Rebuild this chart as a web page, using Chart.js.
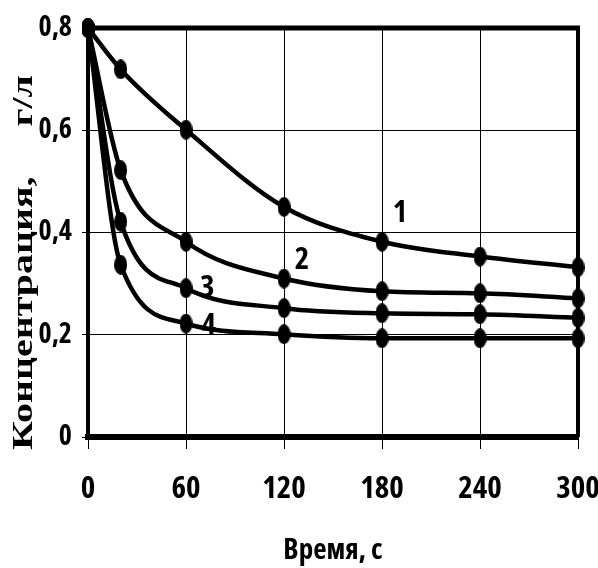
<!DOCTYPE html>
<html>
<head>
<meta charset="utf-8">
<script src="https://cdn.jsdelivr.net/npm/chart.js@4.4.1/dist/chart.umd.min.js"></script>
<style>
  html, body { margin: 0; padding: 0; background: #fff; }
  #wrap { width: 598px; height: 568px; }
</style>
</head>
<body>
<div id="wrap"><canvas id="chart"></canvas></div>
<script>
// время, с
const times = [0, 20, 60, 120, 180, 240, 300];
// концентрация, г/л
const curve1 = [0.8, 0.719, 0.601, 0.450, 0.382, 0.353, 0.332];
const curve2 = [0.8, 0.522, 0.382, 0.310, 0.285, 0.281, 0.271];
const curve3 = [0.8, 0.421, 0.291, 0.252, 0.242, 0.240, 0.233];
const curve4 = [0.8, 0.337, 0.222, 0.201, 0.193, 0.193, 0.193];
const xTicks = [0, 60, 120, 180, 240, 300];
const yTicks = [0, 0.2, 0.4, 0.6, 0.8];

// подписи кривых (в координатах осей)
const curveLabels = [
  { text: "1", x: 191, y: 0.438 },
  { text: "2", x: 131, y: 0.345 },
  { text: "3", x: 73, y: 0.292 },
  { text: "4", x: 74, y: 0.217 },
];

// узкий жирный шрифт: Open Sans condensed, если он есть
const probe = document.createElement("canvas").getContext("2d");
probe.font = "bold 30px 'Open Sans'";
const wNormal = probe.measureText("000000").width;
probe.font = "condensed bold 30px 'Open Sans'";
const wCond = probe.measureText("000000").width;
const hasCond = wCond < wNormal * 0.9;
const tickFont = hasCond
  ? { family: "'Open Sans'", weight: "condensed bold", size: 28 }
  : { family: "'Liberation Sans', Arial, sans-serif", weight: "bold", size: 24 };
const fontStr = (f, size) => f.weight + " " + (size || f.size) + "px " + f.family;

// точка-эллипс
const dot = document.createElement("canvas");
dot.width = 13;
dot.height = 20;
const dctx = dot.getContext("2d");
dctx.fillStyle = "#000";
dctx.beginPath();
dctx.ellipse(6.5, 10, 6.5, 10, 0, 0, Math.PI * 2);
dctx.fill();

function series(data) {
  return {
    data: data.map((v, i) => ({ x: times[i], y: v })),
    borderColor: "#000",
    borderWidth: 4.5,
    pointStyle: dot,
    pointBackgroundColor: "#000",
    cubicInterpolationMode: "monotone",
    clip: false,
  };
}

const extras = {
  id: "extras",
  afterDraw(chart) {
    const { ctx, chartArea: a, scales } = chart;
    ctx.save();
    ctx.strokeStyle = "#000";
    ctx.lineWidth = 5;
    ctx.beginPath();
    ctx.moveTo(a.left - 2, a.top);
    ctx.lineTo(a.right + 2, a.top);
    ctx.stroke();
    ctx.lineWidth = 4;
    ctx.beginPath();
    ctx.moveTo(a.right, a.top);
    ctx.lineTo(a.right, a.bottom);
    ctx.stroke();

    ctx.fillStyle = "#000";
    ctx.font = fontStr(tickFont, hasCond ? 31 : 26);
    ctx.textAlign = "center";
    ctx.textBaseline = "middle";
    curveLabels.forEach((l) => {
      ctx.fillText(l.text, scales.x.getPixelForValue(l.x), scales.y.getPixelForValue(l.y));
    });

    // подпись оси Y (растянута по длине, как в оригинале)
    const title = "Концентрация,     г/л";
    ctx.font = "bold 30px 'Liberation Serif', 'Times New Roman', serif";
    const w = ctx.measureText(title).width;
    ctx.translate(32, 450);
    ctx.rotate(-Math.PI / 2);
    ctx.scale(375 / w, 1);
    ctx.textAlign = "left";
    ctx.textBaseline = "alphabetic";
    ctx.fillText(title, 0, 0);
    ctx.restore();
  },
};

new Chart(document.getElementById("chart"), {
  type: "line",
  data: {
    datasets: [series(curve1), series(curve2), series(curve3), series(curve4)],
  },
  options: {
    responsive: true,
    maintainAspectRatio: false,
    animation: false,
    layout: { padding: { top: 28, right: 20, left: 0, bottom: 0 } },
    plugins: { legend: { display: false }, tooltip: { enabled: false } },
    scales: {
      x: {
        type: "linear",
        min: 0,
        max: 300,
        afterFit: (s) => {
          s.height = 131;
          s.paddingLeft = 0;
          s.paddingRight = 0;
        },
        afterBuildTicks: (s) => { s.ticks = xTicks.map((v) => ({ value: v })); },
        ticks: {
          color: "#000",
          padding: 22,
          font: Object.assign({}, tickFont, { size: hasCond ? 31 : 26 }),
        },
        grid: { color: "#000", lineWidth: 1, tickLength: 12 },
        border: { color: "#000", width: 6 },
        title: {
          display: true,
          text: "Время, с",
          color: "#000",
          font: Object.assign({}, tickFont, { size: hasCond ? 29 : 24 }),
          padding: { top: 0, bottom: 0 },
        },
      },
      y: {
        min: 0,
        max: 0.8,
        afterFit: (s) => {
          s.width = 88;
          s.paddingTop = 0;
          s.paddingBottom = 0;
        },
        afterBuildTicks: (s) => { s.ticks = yTicks.map((v) => ({ value: v })); },
        ticks: {
          color: "#000",
          padding: 10,
          font: tickFont,
          callback: (v) => String(v).replace(".", ","),
        },
        grid: { color: "#000", lineWidth: 1, tickLength: 6 },
        border: { color: "#000", width: 4 },
      },
    },
  },
  plugins: [extras],
});
</script>
</body>
</html>
